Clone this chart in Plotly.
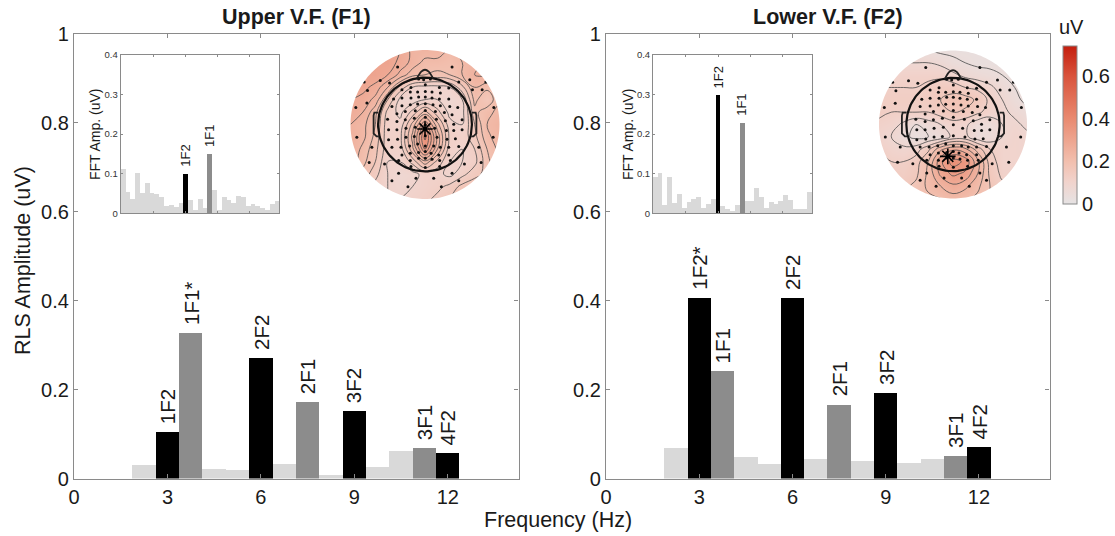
import math
import plotly.graph_objects as go

W, H = 1115, 536
FONT = "Liberation Sans"
TXT = "#1a1a1a"
FRAME = "#8a8a8a"

# ---------- main spectra ----------
bin_freqs = [2.25, 3, 3.75, 4.5, 5.25, 6, 6.75, 7.5, 8.25, 9, 9.75, 10.5, 11.25, 12]
upper_labels = ["", "1F2", "1F1*", "", "", "2F2", "", "2F1", "", "3F2", "", "", "3F1", "4F2"]
lower_labels = ["", "1F2*", "1F1", "", "", "2F2", "", "2F1", "", "3F2", "", "", "3F1", "4F2"]
upper_rls = [0.031, 0.104, 0.328, 0.022, 0.019, 0.272, 0.032, 0.172, 0.009, 0.151, 0.027, 0.062, 0.068, 0.057]
lower_rls = [0.069, 0.406, 0.241, 0.049, 0.032, 0.406, 0.043, 0.166, 0.040, 0.193, 0.035, 0.043, 0.051, 0.071]

# ---------- FFT insets ----------
upper_fft = [.113, .054, .036, .103, .053, .076, .051, .050, .043, .020, .021, .017, .027, .101, .034, .009, .037,
             .014, .151, .059, .010, .043, .035, .028, .045, .041, .020, .023, .019, .013, .008, .023, .032]
lower_fft = [.093, .101, .022, .091, .025, .050, .013, .028, .036, .041, .014, .023, .037, .298, .018, .010, .006,
             .022, .229, .030, .030, .064, .042, .014, .029, .024, .031, .046, .033, .011, .010, .011, .053]
fft_freqs = [round(1.05 + 0.15 * i, 2) for i in range(33)]
fft_1f2_freq = 3.0
fft_1f1_freq = 3.75

# ---------- topographies (rows top to bottom, columns left to right) ----------
upper_topo = [
    [.30, .30, .30, .30, .28, .24, .24, .24, .22, .24, .24, .24, .24],
    [.30, .30, .30, .30, .27, .24, .21, .21, .20, .22, .24, .25, .25],
    [.30, .30, .30, .28, .24, .20, .19, .18, .19, .22, .25, .26, .26],
    [.29, .29, .27, .22, .15, .10, .09, .09, .10, .15, .22, .20, .24],
    [.28, .27, .24, .16, .09, .08, .10, .10, .08, .10, .20, .16, .22],
    [.27, .25, .20, .12, .09, .14, .20, .14, .09, .09, .18, .21, .23],
    [.25, .23, .19, .11, .11, .20, .31, .20, .11, .10, .16, .22, .24],
    [.25, .23, .18, .11, .12, .23, .38, .24, .12, .11, .15, .21, .24],
    [.25, .21, .17, .11, .11, .21, .34, .22, .11, .10, .13, .19, .23],
    [.24, .20, .16, .10, .10, .14, .21, .15, .10, .10, .12, .18, .22],
    [.22, .18, .14, .10, .08, .09, .11, .11, .09, .12, .15, .17, .20],
    [.20, .16, .12, .10, .09, .10, .11, .12, .14, .17, .18, .19, .20],
    [.18, .15, .12, .10, .10, .11, .12, .14, .16, .18, .19, .20, .20],
]
lower_topo = [
    [.05, .05, .06, .05, .04, .03, .03, .03, .03, .03, .03, .03, .03],
    [.08, .08, .08, .08, .08, .07, .05, .04, .03, .03, .03, .03, .03],
    [.10, .10, .11, .11, .11, .11, .09, .07, .06, .05, .04, .03, .03],
    [.12, .12, .12, .12, .13, .14, .14, .12, .11, .09, .06, .04, .03],
    [.13, .13, .13, .13, .14, .16, .18, .18, .15, .11, .08, .05, .03],
    [.13, .12, .12, .12, .12, .14, .16, .15, .13, .10, .09, .07, .05],
    [.11, .10, .07, .04, .06, .08, .10, .09, .05, .05, .08, .09, .07],
    [.10, .08, .05, .03, .04, .05, .09, .09, .05, .05, .08, .10, .09],
    [.12, .10, .09, .10, .15, .23, .27, .25, .18, .12, .10, .10, .09],
    [.14, .12, .12, .14, .20, .31, .38, .35, .25, .14, .10, .10, .10],
    [.15, .14, .13, .15, .21, .29, .33, .31, .24, .15, .11, .11, .11],
    [.15, .15, .15, .17, .21, .24, .27, .25, .21, .16, .13, .13, .13],
    [.15, .15, .16, .17, .19, .20, .22, .21, .19, .16, .15, .14, .14],
]
topo_grid = [round(-1 + i / 6, 4) for i in range(13)]
topo_rows = topo_grid[::-1]
upper_star = (0.0, -0.06)
lower_star = (-0.07, -0.43)

electrodes_z = [
    (172, 82), (335, 82), (388, 120), (72, 127), (120, 122), (148, 130), (355, 127), (436, 127), (82, 152), (396, 150),
    (425, 150), (80, 190), (47, 203), (460, 203), (50, 292), (458, 292), (95, 322), (415, 322), (87, 368), (372, 372),
    (422, 368), (133, 372), (175, 400), (335, 400), (227, 415), (280, 415), (155, 422), (355, 422), (203, 440),
    (303, 440), (250, 120), (235, 118), (270, 118),
    (185, 150), (212, 143), (255, 135), (297, 143), (325, 145),
    (210, 157), (232, 157), (255, 155), (275, 157), (300, 160),
    (160, 178), (185, 175), (212, 175), (235, 172), (255, 172), (275, 175), (297, 178), (325, 178),
    (155, 200), (185, 198), (210, 195), (232, 193), (255, 192), (278, 195), (300, 198), (328, 200), (352, 203),
    (170, 222), (195, 215), (225, 213), (255, 212), (285, 215), (312, 218), (335, 225),
    (142, 238), (170, 245), (195, 240), (222, 235), (255, 232), (288, 238), (315, 243), (340, 253), (365, 240),
    (145, 270), (170, 270), (197, 265), (225, 262), (255, 255), (283, 265), (318, 272), (340, 272), (365, 270),
    (145, 300), (172, 298), (197, 292), (222, 290), (255, 288), (290, 292), (320, 298), (345, 297),
    (155, 322), (182, 322), (208, 318), (232, 312), (255, 318), (280, 318), (300, 322), (325, 322), (355, 320),
    (185, 345), (210, 340), (235, 338), (255, 335), (272, 340), (295, 345), (325, 345),
    (175, 362), (210, 362), (235, 355), (255, 355), (275, 358), (298, 362), (330, 362),
    (212, 380), (255, 383), (298, 380),
]
elec_x = [(p[0] - 254) / 223 for p in electrodes_z]
elec_y = [(254 - p[1]) / 223 for p in electrodes_z]

topo_colors = [[0, "#e6e3e4"], [0.14, "#f1d3cc"], [0.27, "#f2bfae"], [0.54, "#e98a70"], [0.81, "#d9533c"], [1, "#c41e0e"]]
topo_max = 0.74
TOPO_RANGE = 1.02


def role_color(lbl):
    if not lbl:
        return "#d9d9d9"
    return "#000000" if "F2" in lbl else "#8c8c8c"


def px_dom_x(a, b):
    return [a / W, b / W]


def px_dom_y(top, bottom):
    return [(H - bottom) / H, (H - top) / H]


fig = go.Figure()
layout = dict(
    width=W, height=H, margin=dict(l=0, r=0, t=0, b=0), paper_bgcolor="white", plot_bgcolor="white",
    showlegend=False, font=dict(family=FONT, color=TXT), bargap=0,
)
annotations = []
shapes = []


def main_axes(n, dom):
    layout[f"xaxis{n}"] = dict(
        domain=px_dom_x(*dom), range=[0, 14.27], tickvals=[0, 3, 6, 9, 12], ticktext=["0", "3", "6", "9", "12"],
        ticks="inside", ticklen=4, tickcolor=FRAME, linecolor=FRAME, linewidth=1.3, mirror="ticks", showgrid=False,
        zeroline=False, tickfont=dict(size=20, color=TXT, family=FONT), anchor=f"y{n}", automargin=False,
    )
    layout[f"yaxis{n}"] = dict(
        domain=px_dom_y(34, 478.5), range=[0, 1], tickvals=[0, .2, .4, .6, .8, 1],
        ticktext=["0", "0.2", "0.4", "0.6", "0.8", "1"], ticks="inside", ticklen=4, tickcolor=FRAME, linecolor=FRAME,
        linewidth=1.3, mirror="ticks", showgrid=False, zeroline=False,
        tickfont=dict(size=20, color=TXT, family=FONT), anchor=f"x{n}", automargin=False,
    )


def inset_axes(n, dom, dom_y):
    layout[f"xaxis{n}"] = dict(
        domain=px_dom_x(*dom), range=[0.98, 5.92], tickvals=[2, 3, 4, 5], showticklabels=False, ticks="inside",
        ticklen=2, tickcolor=FRAME, linecolor=FRAME, linewidth=1, mirror="ticks", showgrid=False, zeroline=False,
        anchor=f"y{n}", automargin=False,
    )
    layout[f"yaxis{n}"] = dict(
        domain=px_dom_y(*dom_y), range=[0, 0.4], tickvals=[0, .1, .2, .3, .4], ticktext=["0", "0.1", "0.2", "0.3", "0.4"],
        ticks="inside", ticklen=2, tickcolor=FRAME, linecolor=FRAME, linewidth=1, mirror="ticks", showgrid=False,
        zeroline=False, tickfont=dict(size=9.5, color="#333333", family=FONT), anchor=f"x{n}", automargin=False,
    )


def topo_axes(n, dom, dom_y):
    common = dict(range=[-TOPO_RANGE, TOPO_RANGE], visible=False, showgrid=False, zeroline=False, automargin=False)
    layout[f"xaxis{n}"] = dict(domain=px_dom_x(*dom), anchor=f"y{n}", **common)
    layout[f"yaxis{n}"] = dict(domain=px_dom_y(*dom_y), anchor=f"x{n}", **common)


def add_main(n, vals, labels):
    fig.add_trace(go.Bar(
        x=bin_freqs, y=vals, width=0.75, marker=dict(color=[role_color(l) for l in labels], line=dict(width=0)),
        xaxis=f"x{n}", yaxis=f"y{n}", hoverinfo="skip",
    ))
    for f, v, l in zip(bin_freqs, vals, labels):
        if l:
            annotations.append(dict(
                x=f, y=v, xref=f"x{n}", yref=f"y{n}", text=l, textangle=-90, showarrow=False,
                yanchor="bottom", xanchor="center", yshift=6, font=dict(size=20.5, color=TXT, family=FONT),
            ))


def add_inset(n, vals):
    colors = []
    for f in fft_freqs:
        colors.append("#000000" if f == fft_1f2_freq else "#8c8c8c" if f == fft_1f1_freq else "#d9d9d9")
    fig.add_trace(go.Bar(
        x=fft_freqs, y=vals, width=0.15, marker=dict(color=colors, line=dict(width=0)),
        xaxis=f"x{n}", yaxis=f"y{n}", hoverinfo="skip",
    ))
    for f, name in ((fft_1f2_freq, "1F2"), (fft_1f1_freq, "1F1")):
        v = vals[fft_freqs.index(f)]
        annotations.append(dict(
            x=f, y=v, xref=f"x{n}", yref=f"y{n}", text=name, textangle=-90, showarrow=False, yanchor="bottom",
            xanchor="center", yshift=5, font=dict(size=13, color=TXT, family=FONT),
        ))


def add_topo(n, z, star, show_scale, level_size, dom, dom_y):
    xa, ya = f"x{n}", f"y{n}"
    hm = dict(
        x=topo_grid, y=topo_rows, z=z, zmin=0, zmax=topo_max, colorscale=topo_colors, zsmooth="best",
        xaxis=xa, yaxis=ya, hoverinfo="skip", showscale=show_scale,
    )
    if show_scale:
        hm["colorbar"] = dict(
            x=1063 / W, xanchor="left", xpad=0, y=(H - 204) / H, yanchor="bottom", ypad=0, lenmode="pixels", len=158,
            thicknessmode="pixels", thickness=14, tickvals=[0, .2, .4, .6], ticktext=["0", "0.2", "0.4", "0.6"],
            ticks="", outlinecolor=FRAME, outlinewidth=1, tickfont=dict(size=20, color=TXT, family=FONT),
        )
    fig.add_trace(go.Heatmap(**hm))
    fig.add_trace(go.Contour(
        x=topo_grid, y=topo_rows, z=z, contours=dict(coloring="none", start=0.04, end=0.38, size=level_size),
        line=dict(color="#4a4a4a", width=0.8, smoothing=1.2), showscale=False, xaxis=xa, yaxis=ya, hoverinfo="skip",
    ))
    # head outline
    r = 0.63
    th = [2 * math.pi * i / 120 for i in range(121)]
    fig.add_trace(go.Scatter(x=[r * math.cos(t) for t in th], y=[r * math.sin(t) for t in th], mode="lines",
                             line=dict(color="#111111", width=2.2), xaxis=xa, yaxis=ya, hoverinfo="skip"))
    fig.add_trace(go.Scatter(x=[-.11, -.05, 0, .05, .11], y=[.615, .71, .735, .71, .615], mode="lines",
                             line=dict(color="#222222", width=1.8, shape="spline"), xaxis=xa, yaxis=ya, hoverinfo="skip"))
    for s in (-1, 1):
        fig.add_trace(go.Scatter(x=[s * .63, s * .68, s * .69, s * .69, s * .65, s * .62],
                                 y=[.16, .16, .12, -.12, -.16, -.16], mode="lines",
                                 line=dict(color="#222222", width=1.8), xaxis=xa, yaxis=ya, hoverinfo="skip"))
    fig.add_trace(go.Scatter(x=elec_x, y=elec_y, mode="markers", marker=dict(color="#111111", size=3),
                             xaxis=xa, yaxis=ya, hoverinfo="skip"))
    fig.add_trace(go.Scatter(x=[star[0]], y=[star[1]], mode="markers",
                             marker=dict(symbol="asterisk-open", size=13, color="black", line=dict(color="black", width=1.6)),
                             xaxis=xa, yaxis=ya, hoverinfo="skip"))
    # white surround (paper coordinates, slightly larger than the subplot) clips the map to a disc
    cx = (dom[0] + dom[1]) / 2 / W
    cy = 1 - (dom_y[0] + dom_y[1]) / 2 / H
    rx = (dom[1] - dom[0]) / 2 / TOPO_RANGE / W
    ry = (dom_y[1] - dom_y[0]) / 2 / TOPO_RANGE / H
    pad = 5
    x0, x1 = (dom[0] - pad) / W, (dom[1] + pad) / W
    y0, y1 = 1 - (dom_y[1] + pad) / H, 1 - (dom_y[0] - pad) / H
    pts = [(cx + rx * math.cos(2 * math.pi * i / 180), cy + ry * math.sin(2 * math.pi * i / 180)) for i in range(180)]
    path = f"M{x0},{y0}L{x1},{y0}L{x1},{y1}L{x0},{y1}Z M" + "L".join(f"{x:.5f},{y:.5f}" for x, y in pts) + "Z"
    shapes.append(dict(type="path", path=path, xref="paper", yref="paper", fillcolor="white", fillrule="evenodd",
                       line=dict(width=0), layer="above"))


TOPO_L = ((349, 501), (48.5, 200.5))
TOPO_R = ((877.5, 1028.5), (49, 200))

main_axes(1, (74, 518.5))
main_axes(2, (606, 1049.5))
inset_axes(3, (120.7, 279), (54.7, 213.3))
inset_axes(4, (653, 812), (55, 213.3))
topo_axes(5, *TOPO_L)
topo_axes(6, *TOPO_R)

add_main(1, upper_rls, upper_labels)
add_main(2, lower_rls, lower_labels)
add_inset(3, upper_fft)
add_inset(4, lower_fft)
add_topo(5, upper_topo, upper_star, True, 0.03, *TOPO_L)
add_topo(6, lower_topo, lower_star, False, 0.04, *TOPO_R)


def paper_text(x, y, text, size, bold=False, angle=0):
    annotations.append(dict(
        x=x / W, y=(H - y) / H, xref="paper", yref="paper", text=f"<b>{text}</b>" if bold else text, showarrow=False,
        textangle=angle, xanchor="center", yanchor="middle", font=dict(size=size, color=TXT, family=FONT),
    ))


paper_text(296, 17, "Upper V.F. (F1)", 21.5, bold=True)
paper_text(828, 17, "Lower V.F. (F2)", 21.5, bold=True)
paper_text(558, 520, "Frequency (Hz)", 21.5)
paper_text(23, 261, "RLS Amplitude (uV)", 21.5, angle=-90)
paper_text(1071, 27, "uV", 20)
paper_text(95, 134, "FFT Amp. (uV)", 14, angle=-90)
paper_text(628, 134, "FFT Amp. (uV)", 14, angle=-90)

layout["annotations"] = annotations
layout["shapes"] = shapes
fig.update_layout(**layout)
fig.write_html("out.html", config={"displayModeBar": False},
               post_script="document.body.style.margin='0';document.body.style.overflow='hidden';")
